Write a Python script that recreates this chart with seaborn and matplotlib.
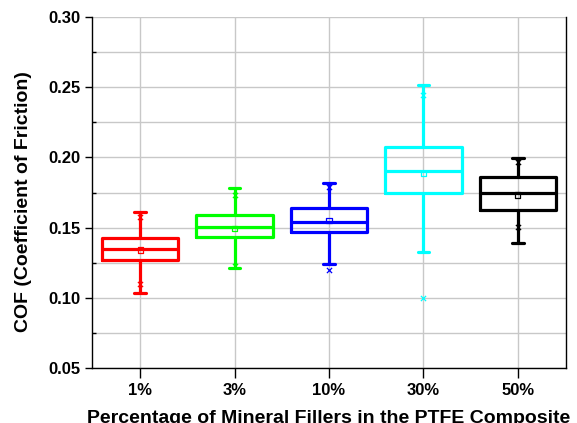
import numpy as np
import pandas as pd
import seaborn as sns
import matplotlib
matplotlib.use("Agg")
import matplotlib.pyplot as plt
from matplotlib.ticker import MultipleLocator

categories = ["1%", "3%", "10%", "30%", "50%"]
colors = ["#FF0000", "#00FF00", "#0000FF", "#00FFFF", "#000000"]
whisker_low = [0.1036, 0.1210, 0.1241, 0.1324, 0.1388]
q1 = [0.1269, 0.1431, 0.1471, 0.1749, 0.1625]
median = [0.1345, 0.1506, 0.1538, 0.1903, 0.1749]
q3 = [0.1424, 0.1590, 0.1637, 0.2076, 0.1858]
whisker_high = [0.1613, 0.1782, 0.1815, 0.2516, 0.1993]
means = [0.1340, 0.1495, 0.1550, 0.1887, 0.1732]
p_low = [0.1098, 0.1230, 0.1198, 0.1001, 0.1502]
p_high = [0.1578, 0.1730, 0.1787, 0.2445, 0.1970]

sns.set_theme(style="white")
plt.rcParams["font.family"] = ["Liberation Sans", "DejaVu Sans"]
plt.rcParams["font.weight"] = "bold"
plt.rcParams["text.color"] = "black"
plt.rcParams["axes.labelcolor"] = "black"
plt.rcParams["xtick.color"] = "black"
plt.rcParams["ytick.color"] = "black"

rows = []
for i, c in enumerate(categories):
    for v in (whisker_low[i], q1[i], median[i], q3[i], whisker_high[i]):
        rows.append({"group": c, "COF": v})
df = pd.DataFrame(rows)
pal = dict(zip(categories, colors))

fig = plt.figure(figsize=(5.77, 4.23), dpi=100)
ax = fig.add_axes([0.1594, 0.130, 0.8216, 0.8298])

sns.boxplot(data=df, x="group", y="COF", hue="group", palette=pal, order=categories,
            fill=False, whis=(0, 100), width=0.81, linewidth=2.3, legend=False,
            capwidths=0.12, showfliers=False, ax=ax, zorder=3)

for i, c in enumerate(categories):
    ax.scatter([i], [means[i]], marker="s", s=14, facecolors="none",
               edgecolors=colors[i], linewidths=0.9, zorder=4)
    ax.scatter([i, i], [p_low[i], p_high[i]], marker="x", s=14,
               color=colors[i], linewidths=0.9, zorder=4)

ax.set_xlim(-0.51, 4.51)
ax.set_ylim(0.05, 0.30)
ax.yaxis.set_major_locator(MultipleLocator(0.05))
ax.yaxis.set_minor_locator(MultipleLocator(0.025))
ax.set_yticklabels([f"{v:.2f}" for v in ax.get_yticks()])
ax.grid(True, which="both", axis="y", color="#c8c8c8", linewidth=1.0, zorder=0)
ax.grid(True, which="major", axis="x", color="#c8c8c8", linewidth=1.0, zorder=0)
ax.set_axisbelow(True)

for s in ["left", "bottom", "right"]:
    ax.spines[s].set_visible(True)
    ax.spines[s].set_color("black")
    ax.spines[s].set_linewidth(1.0)
ax.spines["top"].set_visible(False)

ax.tick_params(axis="y", which="major", direction="out", length=5, width=1,
               left=True, labelsize=12, pad=3, colors="black")
ax.tick_params(axis="y", which="minor", direction="in", length=3, width=1, left=True,
               colors="black")
ax.tick_params(axis="x", which="major", direction="out", length=7, width=1,
               bottom=True, labelsize=12, pad=3.5, colors="black")
for lab in ax.get_xticklabels() + ax.get_yticklabels():
    lab.set_fontweight("bold")
    lab.set_color("black")

ax.set_xlabel("Percentage of Mineral Fillers in the PTFE Composite",
              fontsize=14, fontweight="bold", color="black")
ax.set_ylabel("COF (Coefficient of Friction)", fontsize=14, fontweight="bold",
              color="black")
ax.xaxis.set_label_coords(0.5, -42 / 351, transform=ax.transAxes)
ax.xaxis.label.set_va("top")
ax.yaxis.set_label_coords(-60 / 474, 0.473, transform=ax.transAxes)

fig.savefig("out.png", dpi=100)
